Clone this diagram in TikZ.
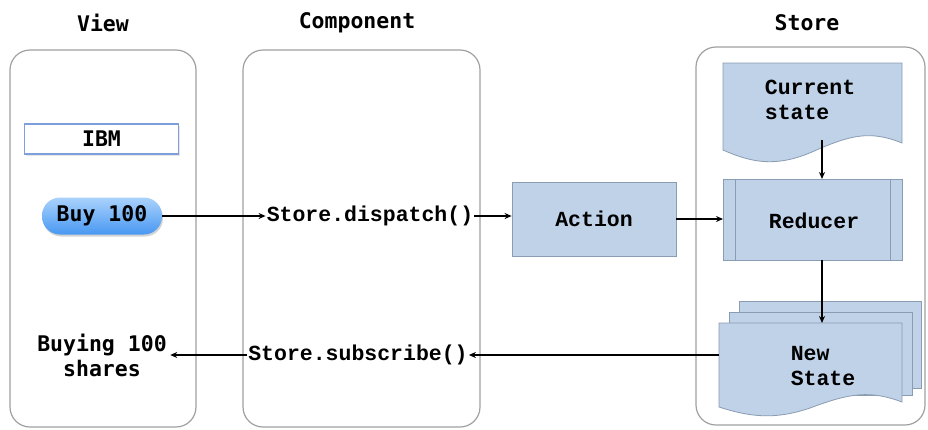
\documentclass[tikz,border=0pt]{standalone}
\usepackage{fontspec}
\newfontfamily\dvmono{DejaVu Sans Mono}
\newfontfamily\libmono{Liberation Mono}
\usetikzlibrary{arrows.meta,shadows}
\definecolor{panelgray}{HTML}{A0A0A0}
\definecolor{boxfill}{HTML}{BFD2E8}
\definecolor{boxline}{HTML}{8A9CB2}
\definecolor{ibmline}{HTML}{7E9EDC}
\tikzset{
  panel/.style={draw=panelgray, line width=1.2pt, rounded corners=20pt},
  title/.style={font=\dvmono\bfseries\fontsize{21.5}{25}\selectfont},
  vtext/.style={font=\dvmono\bfseries\fontsize{21.5}{25}\selectfont, align=center},
  ctext/.style={font=\libmono\bfseries\fontsize{21.5}{24.5}\selectfont, align=center, inner sep=1pt},
  sbox/.style={draw=boxline, fill=boxfill, line width=0.8pt},
  conn/.style={-{Stealth[length=7pt,width=6pt]}, line width=1.4pt},
}
\begin{document}
\begin{tikzpicture}[x=1pt,y=-1pt]
\useasboundingbox (0,0) rectangle (928,429);
% panels
\draw[panel] (10,50) rectangle (196,427);
\draw[panel] (243,50) rectangle (480,427);
\draw[panel] (696,47) rectangle (925,425);
% titles
\node[title] (tview) at (103,23) {View};
\node[title] (tcomp) at (357,23) {Component};
\node[title] (tstore) at (807,23) {Store};
% View
\node[draw=ibmline, line width=1.3pt, minimum width=154pt, minimum height=30pt, inner sep=0pt, vtext,
  drop shadow={shadow xshift=1pt, shadow yshift=-1.5pt, opacity=0.2}, fill=white] (ibm) at (101.5,139) {IBM};
\node[rounded corners=18pt, minimum width=120pt, minimum height=37pt, inner sep=0pt,
  top color={rgb,255:red,170;green,210;blue,252}, bottom color={rgb,255:red,72;green,152;blue,242},
  drop shadow={shadow xshift=1pt, shadow yshift=-2pt, opacity=0.35}, vtext] (buy) at (102,216) {Buy 100};
\node[vtext] (buying) at (102,355) {Buying 100\\shares};
% Component
\node[ctext] (dispatch) at (370,216) {Store.dispatch()};
\node[ctext] (subscribe) at (358,355) {Store.subscribe()};
% Action
\node[sbox, minimum width=164pt, minimum height=74pt, inner sep=0pt, ctext] (action) at (594,219) {Action};
% Current state document
\filldraw[sbox] (723,63) -- (902,63) -- (902,143)
  .. controls (870,130) and (850,135) .. (812,152)
  .. controls (775,168) and (750,162) .. (723,150) -- cycle;
\node[ctext, align=left] (cur) at (810,100) {Current\\state};
% Reducer
\filldraw[sbox] (723,179) rectangle (902,260);
\draw[boxline, line width=1pt] (735,179) -- (735,260) (890,179) -- (890,260);
\node[ctext] (reducer) at (814,221) {Reducer};
\coordinate (redtop) at (822,179);
\coordinate (redbot) at (822,260);
\coordinate (redleft) at (723,219);
% New State multi-document
\filldraw[sbox] (739,301) rectangle (921,388);
\filldraw[sbox] (729,312) rectangle (912,395);
\filldraw[sbox] (719,323) -- (902,323) -- (902,402)
  .. controls (870,390) and (850,393) .. (810,408)
  .. controls (775,420) and (750,417) .. (719,407) -- cycle;
\node[ctext, align=left] (newst) at (823,366) {New\\State};
\coordinate (curbot) at (822,140);
\coordinate (newtop) at (822,323);
\coordinate (newleft) at (719,355);
% connectors
\draw[conn] (buy.east) -- (dispatch.west);
\draw[conn] (dispatch.east) -- (dispatch.east -| action.west);
\draw[conn] (action.east) -- (redleft);
\draw[conn] (curbot) -- (redtop);
\draw[conn] (redbot) -- (newtop);
\draw[conn] (newleft) -- (subscribe.east);
\draw[conn] (subscribe.west) -- (buying.east);
\end{tikzpicture}
\end{document}
